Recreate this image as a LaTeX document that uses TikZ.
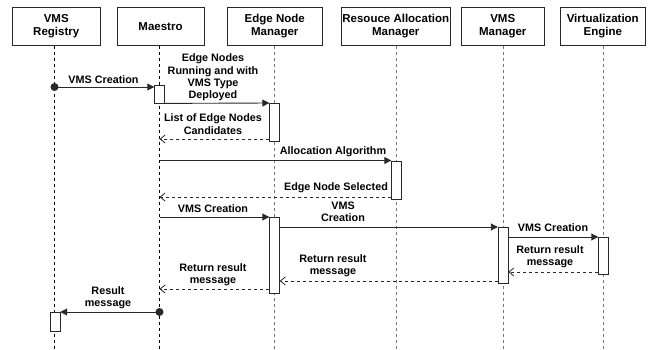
\documentclass[tikz,border=0pt]{standalone}
\usepackage{fontspec}
\setmainfont{Liberation Sans}
\usetikzlibrary{positioning,arrows.meta}
\definecolor{linegray}{RGB}{40,40,40}
\definecolor{lifegray}{RGB}{120,120,120}
\tikzset{
  head/.style={draw=linegray,fill=white,align=center,font=\fontsize{11.5}{13.3}\selectfont\bfseries,minimum height=38.5pt,inner sep=0pt},
  act/.style={draw=linegray,fill=white,minimum width=10pt,inner sep=0pt,anchor=north},
  life/.style={dash pattern=on 3pt off 3pt,line width=0.9pt},
  msg/.style={draw=linegray,line width=0.9pt,-{Triangle[length=7pt,width=7pt]}},
  ret/.style={draw=linegray,line width=0.8pt,dash pattern=on 3pt off 3pt,-{Straight Barb[length=5pt,width=8pt]}},
  lbl/.style={align=center,font=\fontsize{10.8}{12.3}\selectfont\bfseries,inner sep=0pt},
}
\newcommand*{\startdot}[1]{\fill[linegray] (#1) circle (4pt);}

\begin{document}
\begin{tikzpicture}[x=1pt,y=-1pt]
\useasboundingbox (0,0) rectangle (651,349);
% Draw header boxes of the participants
\node[head,minimum width=87.5pt] (reg) at (56.25,26.25) {VMS\\Registry};
\node[head,minimum width=87pt] (mae) at (160.5,26.25) {Maestro};
\node[head,minimum width=95.5pt] (enm) at (274.75,26.25) {Edge Node\\Manager};
\node[head,minimum width=108.5pt] (ram) at (395.75,26.25) {Resouce Allocation\\Manager};
\node[head,minimum width=82.5pt] (vmm) at (502.75,26.25) {VMS\\Manager};
\node[head,minimum width=84.5pt] (ve) at (602.75,26.25) {Virtualization\\Engine};
% Draw lifelines
\draw[life,black] (54.5,45.5) coordinate (regt) -- (54.5,349) coordinate (regb);
\draw[life,black] (159.5,45.5) coordinate (maet) -- (159.5,349) coordinate (maeb);
\draw[life,lifegray] (274.5,45.5) coordinate (enmt) -- (274.5,349) coordinate (enmb);
\draw[life,lifegray] (396.5,45.5) coordinate (ramt) -- (396.5,349) coordinate (ramb);
\draw[life,lifegray] (503,45.5) coordinate (vmmt) -- (503,349) coordinate (vmmb);
\draw[life,lifegray] (603.5,45.5) coordinate (vet) -- (603.5,349) coordinate (veb);
% Draw activation bars
\node[act,minimum height=18pt] (maeact) at (159.5,85) {};
\node[act,minimum height=37.5pt] (enmact1) at (274.5,103) {};
\node[act,minimum height=38.5pt] (ramact) at (396.5,160.5) {};
\node[act,minimum height=75.5pt] (enmact2) at (274.5,217) {};
\node[act,minimum height=56pt] (vmmact) at (503,227) {};
\node[act,minimum height=37pt] (veact) at (603.5,237) {};
\node[act,minimum height=19pt] (regact) at (55,312) {};
% VMS Creation from the registry
\coordinate (m1) at (54.5,87);
\draw[msg] (m1) -- (maeact.west |- m1);
\startdot{m1}
\node[lbl] (l1) at (103.5,80) {VMS Creation};
% Query and answer of the edge node manager
\draw[msg] (maeact.south east) -- (enmact1.north west);
\node[lbl] (l2) at (213,77.5) {Edge Nodes\\Running and with\\VMS Type\\Deployed};
\coordinate (m3) at (159.5,139);
\draw[ret] (enmact1.west |- m3) -- (m3);
\node[lbl] (l3) at (213,124) {List of Edge Nodes\\Candidates};
% Allocation algorithm
\coordinate (m4) at (159.5,160.5);
\draw[msg] (m4) -- (ramact.north west);
\node[lbl] (l4) at (333,152) {Allocation Algorithm};
\coordinate (m5) at (159.5,197);
\draw[ret] (ramact.west |- m5) -- (m5);
\node[lbl] (l5) at (336,188) {Edge Node Selected};
% VMS creation down the chain
\coordinate (m6) at (159.5,217);
\draw[msg] (m6) -- (enmact2.north west);
\node[lbl] (l6) at (213,209) {VMS Creation};
\draw[msg] (enmact2.east |- vmmact.north) -- (vmmact.north west);
\node[lbl] (l7) at (343,212) {VMS\\Creation};
\draw[msg] (vmmact.east |- veact.north) -- (veact.north west);
\node[lbl] (l8) at (553,228) {VMS Creation};
% Results back to the maestro
\coordinate (m9) at (603.5,272);
\draw[ret] (veact.west |- m9) -- (vmmact.east |- m9);
\node[lbl] (l9) at (550,257) {Return result\\message};
\coordinate (m10) at (503,281);
\draw[ret] (vmmact.west |- m10) -- (enmact2.east |- m10);
\node[lbl] (l10) at (333,266) {Return result\\message};
\coordinate (m11) at (159.5,289);
\draw[ret] (enmact2.west |- m11) -- (m11);
\node[lbl] (l11) at (213,274.5) {Return result\\message};
\coordinate (m12) at (159.5,312);
\draw[msg] (m12) -- (regact.north east);
\startdot{m12}
\node[lbl] (l12) at (108,297.5) {Result\\message};
\end{tikzpicture}
\end{document}
